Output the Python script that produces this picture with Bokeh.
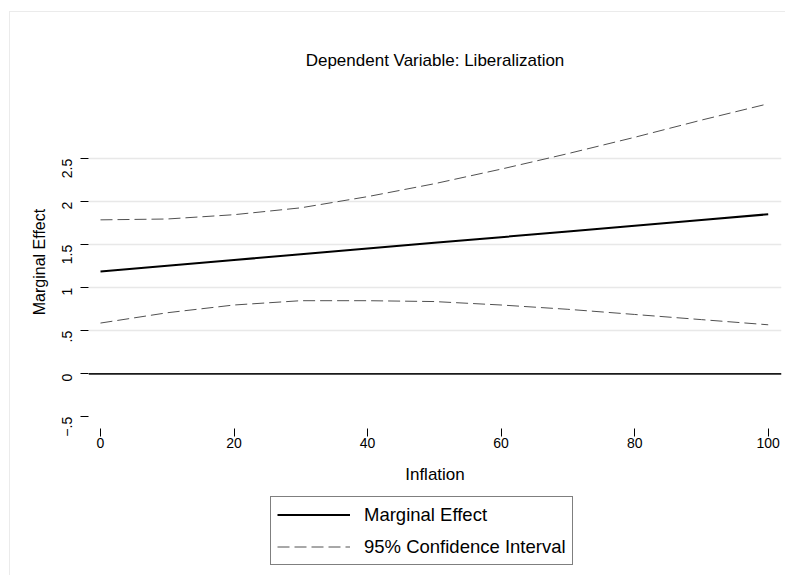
import math
from bokeh.plotting import figure
from bokeh.layouts import column
from bokeh.models import FixedTicker, Span, Legend, LegendItem, Range1d
from bokeh.embed import file_html
from bokeh.resources import INLINE

# ---- data ----
inflation = [0, 10, 20, 30, 40, 50, 60, 70, 80, 90, 100]
marginal_effect = [1.19, 1.257, 1.323, 1.39, 1.456, 1.523, 1.589, 1.656, 1.722, 1.789, 1.855]
ci_upper = [1.79, 1.80, 1.85, 1.93, 2.06, 2.21, 2.38, 2.56, 2.75, 2.95, 3.14]
ci_lower = [0.59, 0.71, 0.80, 0.85, 0.85, 0.84, 0.80, 0.75, 0.69, 0.63, 0.57]

x_ticks = [0, 20, 40, 60, 80, 100]
y_ticks = [-0.5, 0, 0.5, 1, 1.5, 2, 2.5]
y_tick_labels = ["\u2212.5", "0", ".5", "1", "1.5", "2", "2.5"]
grid_ticks = [0.5, 1, 1.5, 2, 2.5]

title_text = "Dependent Variable: Liberalization"
x_title = "Inflation"
y_title = "Marginal Effect"
legend_labels = ["Marginal Effect", "95% Confidence Interval"]

FONT = "Liberation Sans"
ME_STYLE = dict(line_color="black", line_width=2)
CI_STYLE = dict(line_color="#505050", line_width=1, line_dash="12 5")

# content starts at x=10, y=12 (after faint frame border)
p = figure(width=775, height=478, output_backend="svg", toolbar_location=None,
           x_range=Range1d(-1.797, 101.99), y_range=Range1d(-0.636, 3.236),
           min_border_left=78, min_border_right=4, min_border_top=83,
           min_border_bottom=62)
p.outline_line_color = None
p.background_fill_color = "white"
p.border_fill_color = "white"

# title
p.title.text = title_text
p.title.align = "center"
p.title.text_font = FONT
p.title.text_font_size = "17px"
p.title.text_font_style = "normal"
p.title.text_color = "black"
p.title.standoff = 52

# grids
p.xgrid.visible = False
p.ygrid.ticker = FixedTicker(ticks=grid_ticks)
p.ygrid.grid_line_color = "#e8e8e8"
p.ygrid.grid_line_width = 1.5

# axes
for ax in (p.xaxis[0], p.yaxis[0]):
    ax.axis_line_color = None
    ax.major_tick_in = 0
    ax.major_tick_out = 8
    ax.minor_tick_line_color = None
    ax.major_tick_line_color = "black"
    ax.major_label_text_font = FONT
    ax.major_label_text_font_size = "14px"
    ax.major_label_text_color = "black"
    ax.axis_label_text_font = FONT
    ax.axis_label_text_font_style = "normal"
    ax.axis_label_text_color = "black"

p.xaxis.ticker = FixedTicker(ticks=x_ticks)
p.xaxis.axis_label = x_title
p.xaxis.axis_label_text_font_size = "17px"
p.xaxis.major_label_standoff = 1
p.xaxis.axis_label_standoff = 14

p.yaxis.ticker = FixedTicker(ticks=y_ticks)
p.yaxis.major_label_overrides = {t: l for t, l in zip(y_ticks, y_tick_labels)}
p.yaxis.major_label_orientation = math.pi / 2
p.yaxis.axis_label = y_title
p.yaxis.axis_label_text_font_size = "16px"
p.yaxis.major_label_standoff = 13
p.yaxis.axis_label_standoff = 7

# zero line
p.add_layout(Span(location=0, dimension="width", line_color="#1a1a1a", line_width=1.7))

p.line(inflation, ci_upper, **CI_STYLE)
p.line(inflation, ci_lower, **CI_STYLE)
p.line(inflation, marginal_effect, **ME_STYLE)

# ---- legend strip below the plot ----
lg = figure(width=775, height=85, output_backend="svg", toolbar_location=None,
            x_axis_location=None, y_axis_location=None,
            x_range=Range1d(-1.797, 101.99), y_range=Range1d(-0.636, 3.236),
            min_border=0)
lg.outline_line_color = None
lg.xgrid.visible = False
lg.ygrid.visible = False
lr_me = lg.line(inflation, marginal_effect, visible=False, **ME_STYLE)
lr_ci = lg.line(inflation, ci_upper, visible=False, **CI_STYLE)

legend = Legend(items=[LegendItem(label=legend_labels[0], renderers=[lr_me]),
                       LegendItem(label=legend_labels[1], renderers=[lr_ci])],
                location=(182, 10), orientation="vertical")
legend.border_line_color = "black"
legend.border_line_width = 1
legend.background_fill_color = "white"
legend.background_fill_alpha = 1
legend.label_text_font = FONT
legend.label_text_font_size = "18.5px"
legend.label_text_color = "black"
legend.glyph_width = 73
legend.glyph_height = 23
legend.label_height = 23
legend.label_standoff = 14
legend.spacing = 9
legend.padding = 6
legend.margin = 0
lg.add_layout(legend, "center")

layout = column(p, lg, spacing=0)
layout.styles = {"border-left": "1px solid #ebebeb", "border-top": "1px solid #ebebeb",
                 "margin-left": "9px", "margin-top": "11px"}
open("out.html", "w").write(file_html(layout, INLINE))
